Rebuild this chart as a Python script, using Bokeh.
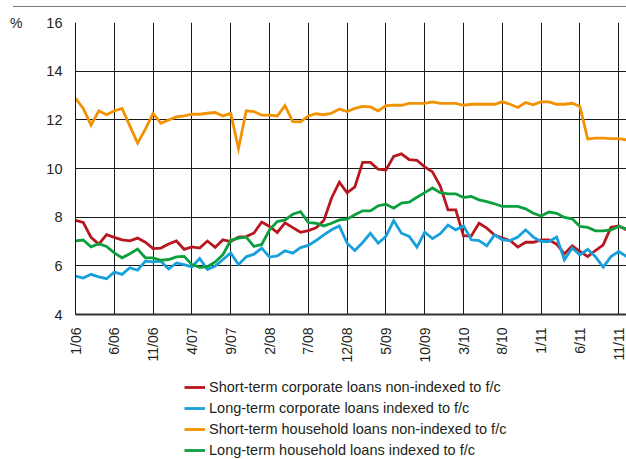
import numpy as np
from bokeh.plotting import figure
from bokeh.layouts import column
from bokeh.models import FixedTicker, Legend, LegendItem, Range1d, LinearAxis, Div
from bokeh.embed import file_html
from bokeh.resources import INLINE

tick_labels = ["1/06", "6/06", "11/06", "4/07", "9/07", "2/08", "7/08", "12/08",
               "5/09", "10/09", "3/10", "8/10", "1/11", "6/11", "11/11"]
tick_positions = [0, 5, 10, 15, 20, 25, 30, 35, 40, 45, 50, 55, 60, 65, 70]
y_ticks = [4, 6, 8, 10, 12, 14, 16]

short_corp = [7.87, 7.78, 7.17, 6.89, 7.28, 7.17, 7.07, 7.03, 7.14, 6.97, 6.71, 6.73,
              6.90, 7.02, 6.68, 6.78, 6.73, 7.02, 6.76, 7.07, 7.00, 7.18, 7.20, 7.35,
              7.80, 7.62, 7.37, 7.77, 7.57, 7.38, 7.45, 7.56, 7.86, 8.79, 9.44, 9.00,
              9.24, 10.25, 10.25, 9.97, 9.94, 10.50, 10.60, 10.36, 10.33, 10.07, 9.86, 9.28,
              8.30, 8.30, 7.23, 7.23, 7.75, 7.55, 7.27, 7.14, 7.04, 6.77, 6.97, 6.97,
              7.07, 7.07, 6.89, 6.49, 6.82, 6.59, 6.38, 6.63, 6.86, 7.59, 7.64, 7.48]
long_corp = [5.58, 5.50, 5.65, 5.55, 5.47, 5.74, 5.65, 5.92, 5.82, 6.19, 6.16, 6.19,
             5.87, 6.12, 6.05, 5.96, 6.30, 5.85, 5.99, 6.26, 6.53, 6.05, 6.37, 6.48,
             6.73, 6.36, 6.41, 6.62, 6.52, 6.75, 6.84, 7.04, 7.27, 7.48, 7.64, 6.93,
             6.63, 6.96, 7.34, 6.93, 7.21, 7.86, 7.34, 7.21, 6.77, 7.38, 7.12, 7.32,
             7.68, 7.48, 7.64, 7.07, 7.04, 6.82, 7.27, 7.07, 7.04, 7.18, 7.48, 7.18,
             7.00, 7.00, 7.18, 6.25, 6.73, 6.45, 6.68, 6.38, 5.95, 6.38, 6.59, 6.38]
short_house = [12.88, 12.47, 11.78, 12.37, 12.21, 12.37, 12.47, 11.75, 11.04, 11.62, 12.27, 11.86,
               11.99, 12.12, 12.16, 12.23, 12.23, 12.27, 12.30, 12.16, 12.27, 10.82, 12.37, 12.34,
               12.19, 12.19, 12.16, 12.58, 11.93, 11.92, 12.16, 12.25, 12.21, 12.27, 12.44, 12.34,
               12.47, 12.55, 12.53, 12.37, 12.58, 12.60, 12.60, 12.68, 12.68, 12.68, 12.74, 12.68,
               12.68, 12.68, 12.60, 12.64, 12.64, 12.64, 12.64, 12.74, 12.64, 12.51, 12.71, 12.62,
               12.75, 12.74, 12.64, 12.64, 12.68, 12.55, 11.21, 11.25, 11.25, 11.23, 11.23, 11.18]
long_house = [7.03, 7.06, 6.78, 6.91, 6.80, 6.53, 6.33, 6.50, 6.69, 6.33, 6.33, 6.23,
              6.26, 6.37, 6.39, 6.05, 5.94, 5.96, 6.16, 6.46, 7.05, 7.14, 7.18, 6.80,
              6.88, 7.48, 7.82, 7.89, 8.12, 8.23, 7.78, 7.75, 7.64, 7.75, 7.89, 7.92,
              8.10, 8.26, 8.26, 8.47, 8.53, 8.37, 8.58, 8.62, 8.82, 9.01, 9.20, 9.01,
              8.96, 8.96, 8.81, 8.85, 8.71, 8.64, 8.55, 8.44, 8.44, 8.44, 8.34, 8.16,
              8.05, 8.21, 8.16, 7.99, 7.93, 7.62, 7.58, 7.44, 7.44, 7.48, 7.62, 7.52]

series_names = ["Short-term corporate loans non-indexed to f/c",
                "Long-term corporate loans indexed to f/c",
                "Short-term household loans non-indexed to f/c",
                "Long-term household loans indexed to f/c"]
series_colors = ["#B8171F", "#17A0DC", "#F39200", "#0D9F3E"]
series_values = [short_corp, long_corp, short_house, long_house]

FONT = "Liberation Sans"
TXT = "#231F20"

months = np.arange(len(short_corp))

top_rule = Div(text="", width=613, height=7, margin=(0, 0, 0, 13),
               styles={"border-bottom": "1px solid #7a7a7a"})

p = figure(width=626, height=367, output_backend="svg", toolbar_location=None,
           x_range=Range1d(0, 71), y_range=Range1d(4, 16),
           min_border_left=75, min_border_right=0, min_border_top=15, min_border_bottom=60,
           outline_line_color=None)

for vals, col in zip(series_values, series_colors):
    p.line(months, vals, line_color=col, line_width=2.8, line_join="miter")

# x axis
p.xaxis.ticker = FixedTicker(ticks=tick_positions)
p.xaxis.major_label_overrides = {t: l for t, l in zip(tick_positions, tick_labels)}
p.xaxis.major_label_orientation = np.pi / 2
p.xaxis.major_tick_out = 0
p.xaxis.major_tick_in = 0
p.xaxis.minor_tick_out = 0
p.xaxis.minor_tick_in = 0
p.xaxis.major_label_standoff = 13
p.xaxis.axis_line_color = "#333333"
p.xaxis.axis_line_width = 2
p.xaxis.major_label_text_font = FONT
p.xaxis.major_label_text_font_size = "14px"
p.xaxis.major_label_text_color = TXT

# y axis
p.yaxis.ticker = FixedTicker(ticks=y_ticks)
p.yaxis.major_tick_out = 0
p.yaxis.major_tick_in = 0
p.yaxis.minor_tick_out = 0
p.yaxis.minor_tick_in = 0
p.yaxis.major_label_standoff = 13
p.yaxis.axis_line_color = "#111111"
p.yaxis.axis_line_width = 1
p.yaxis.major_label_text_font = FONT
p.yaxis.major_label_text_font_size = "14.5px"
p.yaxis.major_label_text_color = TXT

# unit axis carrying the "%" mark at the top-left
unit_axis = LinearAxis(ticker=FixedTicker(ticks=[16]), major_label_overrides={16: "%"},
                       axis_line_color=None, major_tick_out=0, major_tick_in=0,
                       minor_tick_out=0, minor_tick_in=0, major_label_standoff=21,
                       major_label_text_font=FONT, major_label_text_font_size="14px",
                       major_label_text_color=TXT)
p.add_layout(unit_axis, "left")

p.xgrid.ticker = FixedTicker(ticks=tick_positions)
p.xgrid.grid_line_color = "#1a1a1a"
p.xgrid.grid_line_width = 1
p.ygrid.ticker = FixedTicker(ticks=y_ticks)
p.ygrid.grid_line_color = "#1a1a1a"
p.ygrid.grid_line_width = 1

# legend panel (its frame is aligned with the chart frame by the column layout)
lg = figure(width=626, height=84, output_backend="svg", toolbar_location=None,
            x_range=Range1d(0, 1), y_range=Range1d(0, 1),
            x_axis_type=None, y_axis_type=None, outline_line_color=None,
            min_border_left=0, min_border_right=0, min_border_top=0, min_border_bottom=0)
lg.grid.visible = False
legend_renderers = [lg.line(x=[-5, -4], y=[-5, -5], line_color=c, line_width=2.8)
                    for c in series_colors]
legend = Legend(items=[LegendItem(label=n, renderers=[r]) for n, r in zip(series_names, legend_renderers)],
                location=(109, 0), orientation="vertical",
                glyph_width=21, glyph_height=16, label_height=16, label_standoff=4,
                spacing=5, padding=0, margin=0, border_line_color=None,
                background_fill_alpha=0,
                label_text_font=FONT, label_text_font_size="14.5px", label_text_color=TXT)
lg.add_layout(legend, "center")

layout = column(top_rule, p, lg, spacing=0)
open("out.html", "w").write(file_html(layout, INLINE))
